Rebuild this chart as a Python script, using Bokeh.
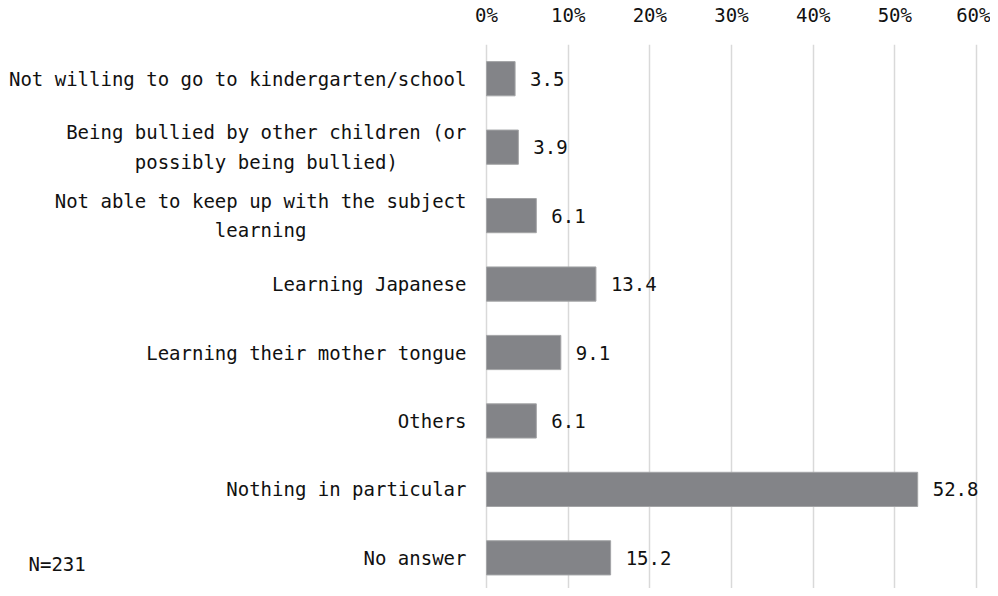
from bokeh.plotting import figure
from bokeh.models import Range1d, FixedTicker, PrintfTickFormatter, Label, ColumnDataSource
from bokeh.core.properties import value
from bokeh.embed import file_html
from bokeh.resources import INLINE

NB = "\u00a0"
categories = [
    "Not willing to go to kindergarten/school",
    "Being bullied by other children (or\npossibly being bullied)" + NB * 6,
    "Not able to keep up with the subject\nlearning" + NB * 14,
    "Learning Japanese",
    "Learning their mother tongue",
    "Others",
    "Nothing in particular",
    "No answer",
]
values = [3.5, 3.9, 6.1, 13.4, 9.1, 6.1, 52.8, 15.2]
x_ticks = [0, 10, 20, 30, 40, 50, 60]
note = "N=231"

FONT = "DejaVu Sans Mono"
BAND = 69.2
HEIGHT = 588
TOP = 38
FRAME_H = HEIGHT - TOP
LEFT_PX = 486
PX = 490 / 60
FRAME_W = 990 - 10
X_MAX = (FRAME_W - LEFT_PX) / PX

idx = list(range(len(categories)))
src = ColumnDataSource(dict(y=idx, v=values, zero=[0] * len(values),
                            cat=categories, lab=[f"{v:.1f}" for v in values]))

p = figure(width=990, height=HEIGHT, output_backend="svg", toolbar_location=None,
           x_range=Range1d(-LEFT_PX / PX, X_MAX),
           y_range=Range1d(-0.5 + FRAME_H / BAND, -0.5),
           x_axis_location="above", y_axis_location=None,
           min_border_left=0, min_border_right=10, min_border_top=TOP, min_border_bottom=0)
p.outline_line_color = None
p.background_fill_color = "white"

p.xgrid.ticker = FixedTicker(ticks=x_ticks)
p.xgrid.grid_line_color = "#d9d9d9"
p.xgrid.grid_line_width = 1.5
p.ygrid.grid_line_color = None

p.hbar(y="y", right="v", left="zero", height=0.5, source=src,
       fill_color="#838488", line_color="#a3a4a6", line_width=1)
p.text(x="v", y="y", text="lab", source=src, x_offset=15,
       text_baseline="middle", text_align="left",
       text_font=value(FONT), text_font_size="19px", text_color="#111111")
p.text(x="zero", y="y", text="cat", source=src, x_offset=-20,
       text_baseline="middle", text_align="right", text_line_height=1.35,
       text_font=value(FONT), text_font_size="19px", text_color="#111111")

xa = p.xaxis[0]
xa.ticker = FixedTicker(ticks=x_ticks)
xa.formatter = PrintfTickFormatter(format="%d%%")
xa.axis_line_color = None
xa.major_tick_line_color = None
xa.minor_tick_line_color = None
xa.major_label_standoff = 13
xa.major_label_text_font = FONT
xa.major_label_text_font_size = "19px"
xa.major_label_text_color = "#111111"

p.add_layout(Label(x=28, y=14, x_units="screen", y_units="screen", text=note,
                   text_font=FONT, text_font_size="19px", text_color="#111111",
                   text_baseline="bottom", text_align="left"))

open("out.html", "w").write(file_html(p, INLINE))
